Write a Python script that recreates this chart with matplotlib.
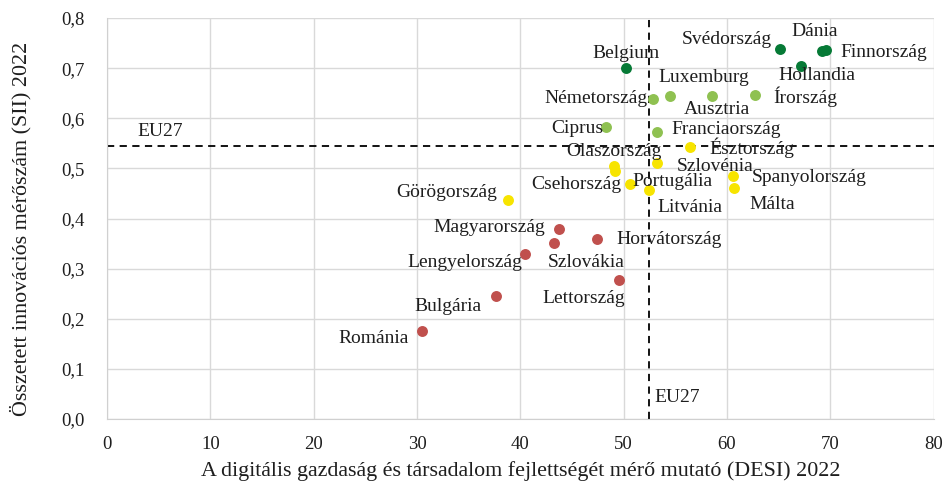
import matplotlib
matplotlib.use("Agg")
import matplotlib.pyplot as plt
from matplotlib.ticker import FuncFormatter, MultipleLocator

plt.rcParams['font.family'] = ['Liberation Serif', 'DejaVu Serif']

# DESI 2022 (x) vs SII 2022 (y), grouped by innovation performance
dark_names = ['Belgium', 'Svédország', 'Dánia', 'Finnország', 'Hollandia']
dark_x = [50.2, 65.1, 69.2, 69.6, 67.2]
dark_y = [0.700, 0.739, 0.735, 0.737, 0.705]

light_names = ['Németország', 'Luxemburg', 'Ausztria', 'Írország', 'Ciprus', 'Franciaország']
light_x = [52.8, 54.5, 58.6, 62.7, 48.3, 53.2]
light_y = [0.638, 0.645, 0.645, 0.647, 0.583, 0.573]

yellow_names = ['Észtország', 'Olaszország', 'Csehország', 'Szlovénia', 'Spanyolország',
                'Portugália', 'Litvánia', 'Málta', 'Görögország']
yellow_x = [56.4, 49.1, 49.2, 53.2, 60.6, 50.6, 52.5, 60.7, 38.8]
yellow_y = [0.543, 0.505, 0.495, 0.510, 0.484, 0.469, 0.457, 0.460, 0.437]

red_names = ['Magyarország', 'Szlovákia', 'Horvátország', 'Lengyelország', 'Lettország',
             'Bulgária', 'Románia']
red_x = [43.7, 43.3, 47.4, 40.5, 49.6, 37.6, 30.5]
red_y = [0.379, 0.352, 0.360, 0.329, 0.277, 0.245, 0.176]

eu_x = 52.5
eu_y = 0.545

# label placement: (dx, dy) in pixels, horizontal alignment
label_pos = {
    'Belgium': (0, 15, 'center'), 'Svédország': (-8, 9, 'right'),
    'Dánia': (-7, 19, 'center'), 'Finnország': (14, -3, 'left'),
    'Hollandia': (16, -10, 'center'),
    'Németország': (-5, 1, 'right'), 'Luxemburg': (34, 18, 'center'),
    'Ausztria': (4, -14, 'center'), 'Írország': (18, -2, 'left'),
    'Ciprus': (-3, -2, 'right'), 'Franciaország': (15, 2, 'left'),
    'Észtország': (20, -1, 'left'), 'Olaszország': (0, 14, 'center'),
    'Csehország': (6, -14, 'right'), 'Szlovénia': (20, -3, 'left'),
    'Spanyolország': (19, -1, 'left'), 'Portugália': (3, 2, 'left'),
    'Litvánia': (40, -18, 'center'), 'Málta': (15, -16, 'left'),
    'Görögország': (-11, 7, 'right'),
    'Magyarország': (-13, 2, 'right'), 'Szlovákia': (32, -20, 'center'),
    'Horvátország': (20, -1, 'left'), 'Lengyelország': (-3, -8, 'right'),
    'Lettország': (-36, -18, 'center'), 'Bulgária': (-48, -10, 'center'),
    'Románia': (-13, -8, 'right'),
}

groups = [
    (dark_names, dark_x, dark_y, '#067a36'),
    (light_names, light_x, light_y, '#8fc151'),
    (yellow_names, yellow_x, yellow_y, '#f7e400'),
    (red_names, red_x, red_y, '#c0504d'),
]

txt = '#1e1e1e'
fig = plt.figure(figsize=(9.43, 4.83), dpi=100)
ax = fig.add_axes([0.1135, 0.1325, 0.8765, 0.8302])

fs = 14
for names, xs, ys, col in groups:
    ax.scatter(xs, ys, s=62, color=col, zorder=3, linewidths=0)
    for n, x, y in zip(names, xs, ys):
        dx, dy, ha = label_pos[n]
        ax.annotate(n, (x, y), xytext=(dx, dy), textcoords='offset pixels',
                    ha=ha, va='center', fontsize=fs, color=txt, zorder=4)

ax.axvline(eu_x, color='black', lw=1.3, ls=(0, (4, 3)), zorder=2)
ax.axhline(eu_y, color='black', lw=1.3, ls=(0, (4, 3)), zorder=2)
ax.annotate('EU27', (0, eu_y), xytext=(30, 14), textcoords='offset pixels',
            ha='left', va='center', fontsize=fs, color=txt)
ax.annotate('EU27', (eu_x, 0), xytext=(5, 22), textcoords='offset pixels',
            ha='left', va='center', fontsize=fs, color=txt)

ax.set_xlim(0, 80)
ax.set_ylim(0, 0.8)
ax.xaxis.set_major_locator(MultipleLocator(10))
ax.yaxis.set_major_locator(MultipleLocator(0.1))
ax.yaxis.set_major_formatter(FuncFormatter(lambda v, p: f'{v:.1f}'.replace('.', ',')))
ax.grid(True, color='#d9d9d9', lw=1)
ax.set_axisbelow(True)
for side in ['top', 'right']:
    ax.spines[side].set_visible(False)
for side in ['left', 'bottom']:
    ax.spines[side].set_color('#d0d0d0')
ax.tick_params(axis='y', length=0, labelsize=13.5, colors=txt, pad=16)
ax.tick_params(axis='x', length=0, labelsize=13.5, colors=txt, pad=12)

ax.set_xlabel('A digitális gazdaság és társadalom fejlettségét mérő mutató (DESI) 2022',
              fontsize=15.8, color=txt)
ax.set_ylabel('Összetett innovációs mérőszám (SII) 2022', fontsize=15.8, color=txt)
ax.xaxis.set_label_coords(0.5, -0.105)
ax.yaxis.set_label_coords(-0.091, 0.473)

fig.savefig('out.png', dpi=100)
